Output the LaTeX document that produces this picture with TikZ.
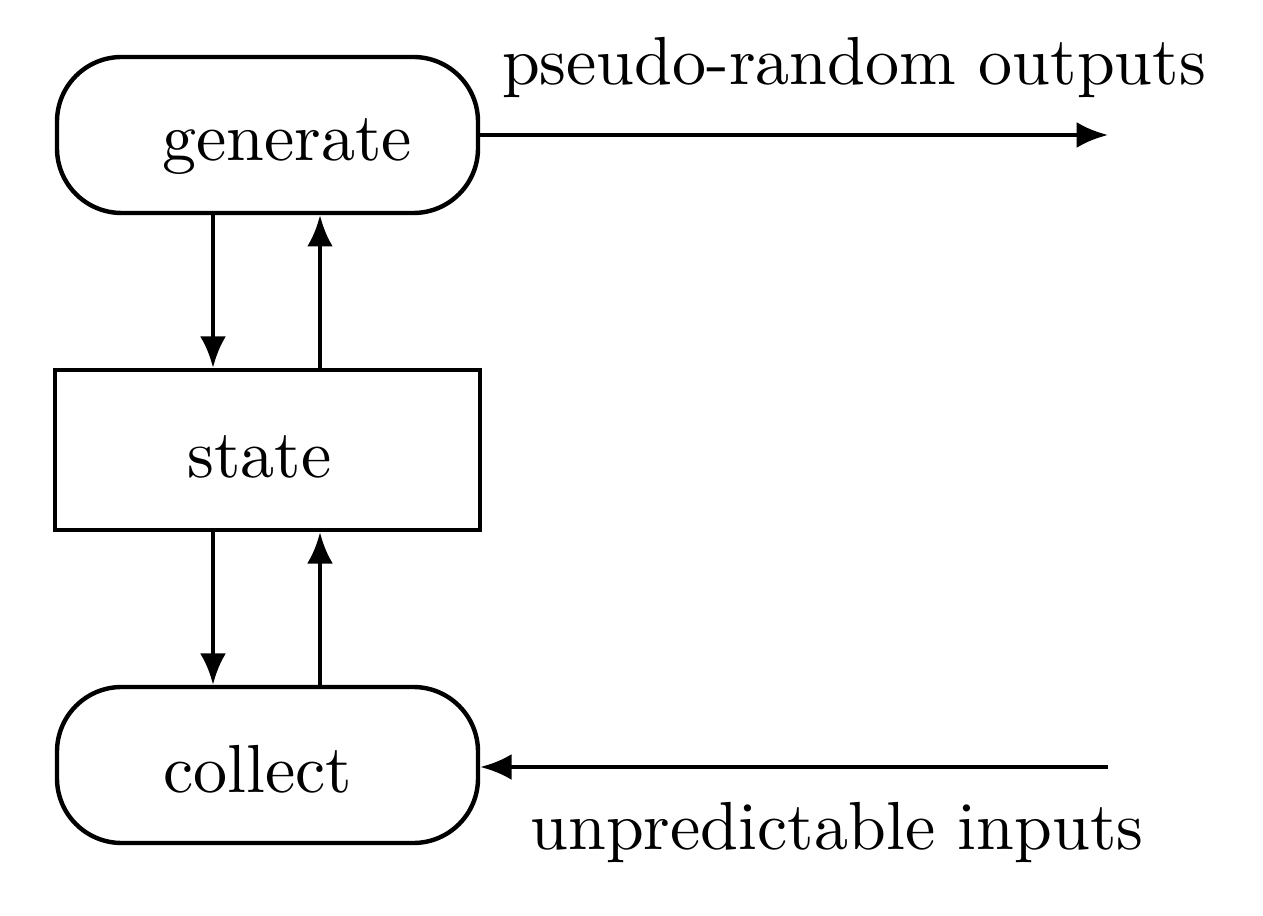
\documentclass[tikz,border=0pt]{standalone}
\usetikzlibrary{arrows.meta}
\begin{document}
\begin{tikzpicture}[x=0.147pt,y=-0.147pt,
  line width=0.65pt,
  box/.style={draw,line width=0.65pt},
  lbl/.style={inner sep=0pt,anchor=base,font=\normalsize},
  arr/.style={-{Latex[length=4.6pt,width=3.8pt]},line width=0.65pt}]
\useasboundingbox (0,0) rectangle (1263,916);
% boxes
\draw[box,rounded corners=9.5pt] (57,57) rectangle (478,213);
\draw[box] (55,370) rectangle (480,530);
\draw[box,rounded corners=9.5pt] (57,687) rectangle (478,843);
% invisible named nodes for the boxes
\node[inner sep=0pt,minimum width=421*0.147pt,minimum height=156*0.147pt] (gen) at (267.5,135) {};
\node[inner sep=0pt,minimum width=425*0.147pt,minimum height=160*0.147pt] (st) at (267.5,450) {};
\node[inner sep=0pt,minimum width=421*0.147pt,minimum height=156*0.147pt] (col) at (267.5,765) {};
% texts
\node[lbl] (tgen) at (287,161) {generate};
\node[lbl] (tst) at (259.5,478) {state};
\node[lbl] (tcol) at (258,793) {collect};
\node[lbl] (tout) at (854,85) {pseudo-random outputs};
\node[lbl] (tin) at (837,849) {unpredictable inputs};
% free ends
\coordinate (outend) at (1108,135);
\coordinate (inend) at (1108,767);
% connectors
\draw[arr] (gen.south -| 213,0) -- (st.north -| 213,0);
\draw[arr] (st.north -| 320,0) -- (gen.south -| 320,0);
\draw[arr] (st.south -| 213,0) -- (col.north -| 213,0);
\draw[arr] (col.north -| 320,0) -- (st.south -| 320,0);
\draw[arr] (gen.east) -- (outend);
\draw[arr] (inend) -- (col.east |- inend);
\end{tikzpicture}
\end{document}
